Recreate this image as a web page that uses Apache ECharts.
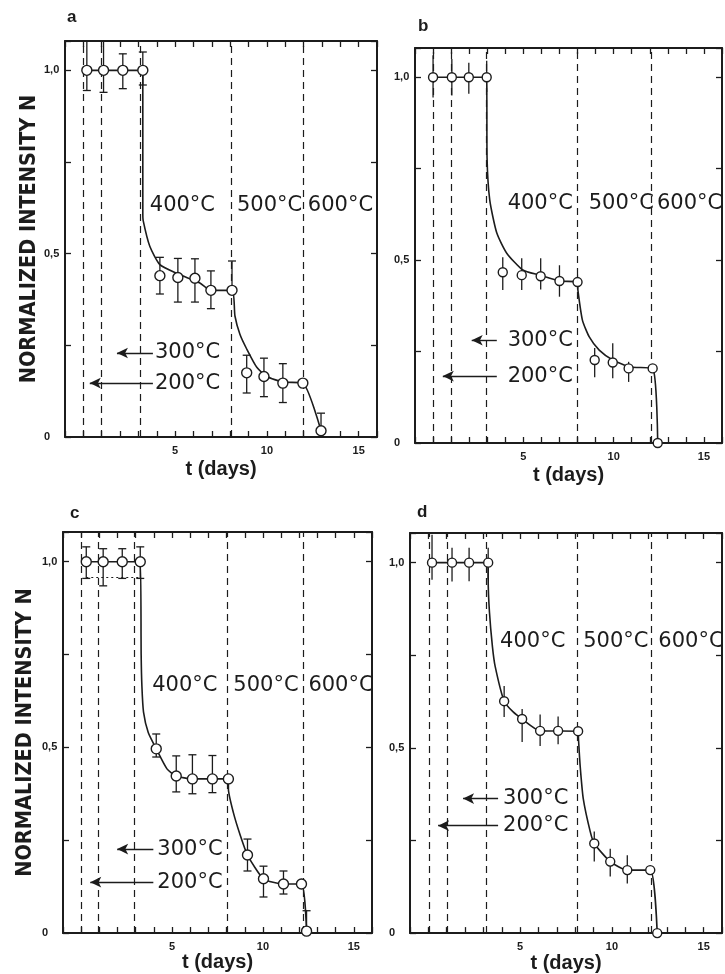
<!DOCTYPE html>
<html>
<head>
<meta charset="utf-8">
<script src="https://cdn.jsdelivr.net/npm/echarts@6/dist/echarts.min.js"></script>
<style>html,body{margin:0;padding:0;background:#fff;}#c{width:725px;height:974px;}</style>
</head>
<body>
<div id="c"></div>
<script>
// ---------- data ----------
const panelLetters = ['a', 'b', 'c', 'd'];
const xTickLabels = [5, 10, 15];
const yTickLabels = {0: '0', 0.5: '0,5', 1: '1,0'};
const tempLabels = ['200°C', '300°C', '400°C', '500°C', '600°C'];
const yAxisTitle = 'NORMALIZED INTENSITY N';
const xAxisTitle = 't (days)';

// panel a
const aX = [0.19, 1.1, 2.15, 3.24, 4.17, 5.15, 6.08, 6.95, 8.1, 8.9, 9.84, 10.87, 11.96, 12.95];
const aY = [1, 1, 1, 1, 0.44, 0.435, 0.433, 0.40, 0.40, 0.175, 0.165, 0.147, 0.147, 0.017];
const aLo = [0.945, 0.94, 0.95, 0.96, 0.39, 0.368, 0.368, 0.35, 0.40, 0.12, 0.11, 0.094, 0.147, 0.0];
const aHi = [1.08, 1.08, 1.045, 1.05, 0.49, 0.487, 0.486, 0.453, 0.48, 0.223, 0.215, 0.20, 0.147, 0.065];
const aCurveX = [0.19, 3.24, 3.24, 3.26, 3.62, 4.17, 5.15, 6.35, 6.95, 8.1, 8.26, 8.53, 8.9, 9.45, 10.0, 10.87, 11.96, 12.95];
const aCurveY = [1, 1, 0.61, 0.59, 0.52, 0.47, 0.445, 0.42, 0.40, 0.40, 0.33, 0.28, 0.24, 0.19, 0.165, 0.15, 0.147, 0.017];
const aDashed = [0, 1, 3.08, 8.04, 12.0];
const aTempX = [3.9, 3.9, 3.62, 8.37, 12.23];
const aTempY = [0.147, 0.229, 0.632, 0.632, 0.632];
const aArrowFrom = [0.35, 1.83];
const aArrowTo = [3.79, 3.79];

// panel b
const bX = [0.0, 1.04, 1.98, 2.97, 3.86, 4.91, 5.96, 7.0, 8.0, 8.95, 9.95, 10.83, 12.16, 12.44];
const bY = [1, 1, 1, 1, 0.467, 0.459, 0.456, 0.443, 0.44, 0.227, 0.22, 0.204, 0.204, 0.0];
const bLo = [0.945, 0.95, 0.955, 0.96, 0.418, 0.418, 0.42, 0.40, 0.42, 0.18, 0.177, 0.167, 0.204, 0];
const bHi = [1.06, 1.05, 1.04, 1.045, 0.508, 0.505, 0.505, 0.486, 0.46, 0.26, 0.273, 0.222, 0.204, 0];
const bCurveX = [0.0, 2.97, 2.99, 3.14, 3.53, 4.08, 4.97, 5.91, 7.0, 8.0, 8.02, 8.27, 8.65, 9.2, 9.95, 10.9, 12.16, 12.44];
const bCurveY = [1, 1, 0.78, 0.664, 0.574, 0.519, 0.473, 0.459, 0.443, 0.44, 0.418, 0.336, 0.29, 0.254, 0.227, 0.208, 0.204, 0.0];
const bDashed = [0, 1, 2.97, 8.0, 12.1];
const bTempX = [4.13, 4.13, 4.13, 8.62, 12.4];
const bTempY = [0.183, 0.281, 0.656, 0.656, 0.656];
const bArrowFrom = [0.54, 2.14];
const bArrowTo = [3.53, 3.53];

// panel c
const cX = [0.28, 1.21, 2.26, 3.25, 4.13, 5.23, 6.12, 7.22, 8.1, 9.15, 10.03, 11.13, 12.12, 12.4];
const cY = [1, 1, 1, 1, 0.496, 0.423, 0.415, 0.415, 0.415, 0.21, 0.146, 0.132, 0.132, 0.005];
const cLo = [0.955, 0.935, 0.955, 0.955, 0.474, 0.38, 0.375, 0.378, 0.415, 0.167, 0.097, 0.105, 0.132, 0.005];
const cHi = [1.04, 1.035, 1.035, 1.04, 0.536, 0.477, 0.48, 0.478, 0.415, 0.253, 0.18, 0.167, 0.132, 0.06];
const cCurveX = [0.28, 3.25, 3.3, 3.34, 3.43, 3.69, 4.13, 4.72, 5.23, 6.12, 8.1, 8.1, 8.37, 8.76, 9.15, 10.03, 11.13, 12.12, 12.4];
const cCurveY = [1, 1, 0.75, 0.666, 0.595, 0.54, 0.496, 0.442, 0.423, 0.415, 0.415, 0.388, 0.325, 0.262, 0.21, 0.146, 0.132, 0.132, 0.005];
const cDashed = [0, 0.94, 2.92, 8.04, 12.23];
const cTempX = [4.19, 4.19, 3.91, 8.37, 12.5];
const cTempY = [0.137, 0.226, 0.666, 0.666, 0.666];
const cArrowFrom = [0.5, 1.98];
const cArrowTo = [3.97, 3.97];
const cDottedX = [0.28, 3.25];
const cDottedY = [0.957, 0.957];

// panel d
const dX = [0.2, 1.29, 2.22, 3.26, 4.13, 5.11, 6.09, 7.07, 8.16, 9.04, 9.91, 10.84, 12.09, 12.47];
const dY = [1, 1, 1, 1, 0.626, 0.578, 0.546, 0.546, 0.545, 0.242, 0.193, 0.17, 0.17, 0.0];
const dLo = [0.954, 0.949, 0.95, 0.955, 0.583, 0.516, 0.505, 0.51, 0.545, 0.193, 0.153, 0.134, 0.17, 0];
const dHi = [1.075, 1.04, 1.04, 1.04, 0.667, 0.605, 0.59, 0.585, 0.545, 0.274, 0.228, 0.21, 0.17, 0];
const dCurveX = [0.2, 3.26, 3.26, 3.33, 3.49, 3.64, 4.13, 4.62, 5.11, 6.09, 8.16, 8.18, 8.27, 8.44, 8.82, 9.04, 9.91, 10.84, 12.09, 12.47];
const dCurveY = [1, 1, 0.954, 0.866, 0.774, 0.72, 0.626, 0.597, 0.578, 0.546, 0.545, 0.524, 0.452, 0.363, 0.274, 0.242, 0.193, 0.17, 0.17, 0.0];
const dDashed = [0.04, 1.02, 3.15, 8.11, 12.15];
const dTempX = [4.07, 4.07, 3.91, 8.44, 12.53];
const dTempY = [0.29, 0.363, 0.788, 0.788, 0.788];
const dArrowFrom = [0.53, 1.89];
const dArrowTo = [3.8, 3.8];

// ---------- layout / style ----------
const INK = '#1c1c1c';
const panels = [
  {x: aX, y: aY, lo: aLo, hi: aHi, cx: aCurveX, cy: aCurveY, dashed: aDashed, tx: aTempX, ty: aTempY, af: aArrowFrom, at: aArrowTo,
   grid: {left: 65, top: 41, width: 312, height: 396}, caps: true, sym: 10, yName: true, yGap: 17, xGap: 22, letter: [67, 9]},
  {x: bX, y: bY, lo: bLo, hi: bHi, cx: bCurveX, cy: bCurveY, dashed: bDashed, tx: bTempX, ty: bTempY, af: bArrowFrom, at: bArrowTo,
   grid: {left: 415, top: 48, width: 307, height: 395}, caps: false, sym: 9, yName: false, xGap: 22, letter: [418, 18]},
  {x: cX, y: cY, lo: cLo, hi: cHi, cx: cCurveX, cy: cCurveY, dashed: cDashed, tx: cTempX, ty: cTempY, af: cArrowFrom, at: cArrowTo,
   grid: {left: 63, top: 532, width: 309, height: 401}, caps: true, sym: 10, yName: true, yGap: 27, xGap: 17, letter: [70, 505],
   dotted: [cDottedX, cDottedY]},
  {x: dX, y: dY, lo: dLo, hi: dHi, cx: dCurveX, cy: dCurveY, dashed: dDashed, tx: dTempX, ty: dTempY, af: dArrowFrom, at: dArrowTo,
   grid: {left: 410, top: 533, width: 312, height: 402}, caps: false, sym: 9, yName: false, xGap: 16, letter: [417, 504]}
];

const grids = [], xAxes = [], yAxes = [], series = [], titles = [];
const tickFont = {fontSize: 11, fontWeight: 'bold', color: INK, fontFamily: 'Liberation Sans, Arial, sans-serif'};

function errRender(caps) {
  return function (params, api) {
    const x = api.value(0), lo = api.value(1), hi = api.value(2);
    if (hi <= lo) return null;
    const p1 = api.coord([x, lo]), p2 = api.coord([x, hi]);
    const st = {stroke: INK, lineWidth: 1.3};
    const ch = [{type: 'line', shape: {x1: p1[0], y1: p1[1], x2: p2[0], y2: p2[1]}, style: st}];
    if (caps) {
      ch.push({type: 'line', shape: {x1: p1[0] - 4, y1: p1[1], x2: p1[0] + 4, y2: p1[1]}, style: st});
      ch.push({type: 'line', shape: {x1: p2[0] - 4, y1: p2[1], x2: p2[0] + 4, y2: p2[1]}, style: st});
    }
    return {type: 'group', children: ch};
  };
}

panels.forEach((p, i) => {
  grids.push(Object.assign({containLabel: false}, p.grid));
  const axisLine = {show: true, onZero: false, lineStyle: {color: INK, width: 2}};
  const tick = {show: true, inside: true, length: 6, lineStyle: {color: INK, width: 1.3}};
  xAxes.push({
    type: 'value', gridIndex: i, position: 'bottom', min: -1, max: 16, interval: 1,
    axisLine: axisLine, axisTick: tick, splitLine: {show: false},
    axisLabel: Object.assign({margin: 8, formatter: v => xTickLabels.indexOf(v) >= 0 ? String(v) : ''}, tickFont),
    name: xAxisTitle, nameLocation: 'middle', nameGap: p.xGap,
    nameTextStyle: {fontSize: 20, fontWeight: 'bold', color: INK, fontFamily: 'Liberation Sans, Arial, sans-serif'}
  });
  xAxes.push({
    type: 'value', gridIndex: i, position: 'top', min: -1, max: 16, interval: 1,
    axisLine: axisLine, axisTick: tick, splitLine: {show: false}, axisLabel: {show: false}
  });
  const yl = {
    type: 'value', gridIndex: i, position: 'left', min: 0, max: 1.08, interval: 0.25,
    axisLine: axisLine, axisTick: tick, splitLine: {show: false},
    axisLabel: Object.assign({margin: 21, align: 'left', formatter: v => (yTickLabels[v] !== undefined ? yTickLabels[v] : '')}, tickFont)
  };
  if (p.yName) {
    Object.assign(yl, {
      name: yAxisTitle, nameLocation: 'middle', nameRotate: 90, nameGap: p.yGap,
      nameTextStyle: {fontSize: 21.5, fontWeight: 'bold', color: INK,
        fontFamily: "'Liberation Sans Narrow', 'DejaVu Sans Condensed', 'Liberation Sans', sans-serif"}
    });
  }
  yAxes.push(yl);
  yAxes.push({
    type: 'value', gridIndex: i, position: 'right', min: 0, max: 1.08, interval: 0.25,
    axisLine: axisLine, axisTick: tick, splitLine: {show: false}, axisLabel: {show: false}
  });
  const xi = i * 2, yi = i * 2;

  // fitted curve + dashed temperature boundaries
  series.push({
    type: 'line', xAxisIndex: xi, yAxisIndex: yi, z: 3,
    data: p.cx.map((v, k) => [v, p.cy[k]]), showSymbol: false, symbol: 'none', smooth: 0.2,
    lineStyle: {color: INK, width: 1.6}, silent: true,
    markLine: {
      silent: true, symbol: ['none', 'none'], label: {show: false},
      lineStyle: {color: INK, width: 1.2, type: [7, 5]},
      data: p.dashed.map(v => ({xAxis: v}))
    }
  });
  // arrows + annotations
  const mlData = p.af.map((f, k) => [{coord: [f, p.ty[k]]}, {coord: [p.at[k], p.ty[k]]}]);
  if (p.dotted) {
    mlData.push([{coord: [p.dotted[0][0], p.dotted[1][0]], symbol: 'none', lineStyle: {type: [2, 3], width: 1}},
                 {coord: [p.dotted[0][1], p.dotted[1][1]], symbol: 'none'}]);
  }
  series.push({
    type: 'line', xAxisIndex: xi, yAxisIndex: yi, data: [], silent: true,
    markLine: {
      silent: true, symbol: ['arrow', 'none'], symbolSize: [8, 11], label: {show: false},
      lineStyle: {color: INK, width: 1.4, type: 'solid'}, itemStyle: {color: INK},
      data: mlData
    },
    markPoint: {
      silent: true, symbol: 'circle', symbolSize: 0,
      label: {show: true, position: [0, 0], align: 'left', verticalAlign: 'middle', color: INK,
        fontSize: 21, fontFamily: 'DejaVu Sans, sans-serif', formatter: '{b}'},
      data: tempLabels.map((t, k) => ({name: t, coord: [p.tx[k], p.ty[k]]}))
    }
  });
  // error bars
  series.push({
    type: 'custom', xAxisIndex: xi, yAxisIndex: yi, z: 4, clip: true, silent: true,
    renderItem: errRender(p.caps),
    encode: {x: 0, y: [1, 2]},
    data: p.x.map((v, k) => [v, p.lo[k], p.hi[k]])
  });
  // data points
  series.push({
    type: 'scatter', xAxisIndex: xi, yAxisIndex: yi, z: 6, silent: true,
    symbol: 'circle', symbolSize: p.sym,
    itemStyle: {color: '#ffffff', borderColor: INK, borderWidth: 1.4, opacity: 1},
    data: p.x.map((v, k) => [v, p.y[k]])
  });
  titles.push({text: panelLetters[i], left: p.letter[0], top: p.letter[1], padding: 0,
    textStyle: {fontSize: 17, fontWeight: 'bold', color: INK, fontFamily: 'Liberation Sans, Arial, sans-serif'}});
});

const chart = echarts.init(document.getElementById('c'), null, {renderer: 'canvas'});
chart.setOption({
  backgroundColor: '#ffffff',
  animation: false,
  title: titles,
  grid: grids,
  xAxis: xAxes,
  yAxis: yAxes,
  series: series
});
</script>
</body>
</html>
